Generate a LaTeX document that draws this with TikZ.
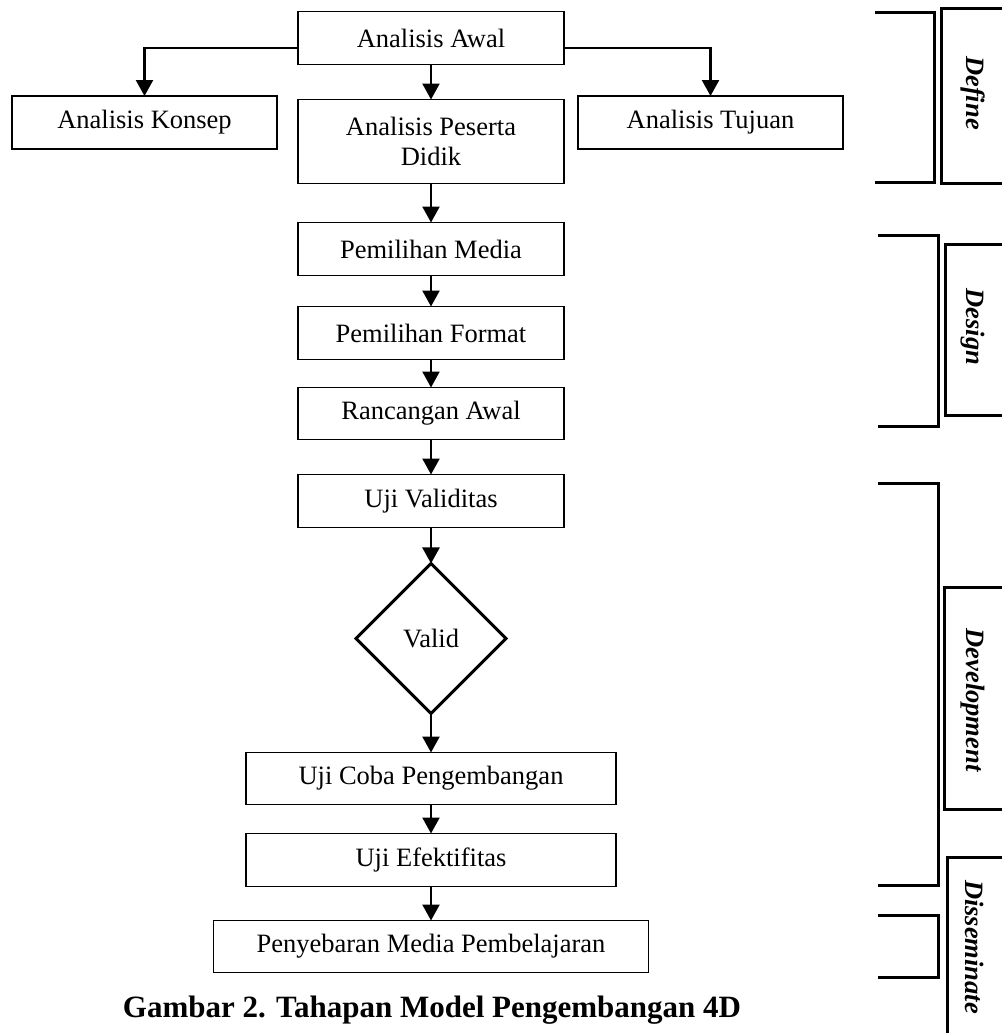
\documentclass[tikz,border=0pt]{standalone}
\usepackage{fontspec}
\setmainfont{Liberation Serif}
\usetikzlibrary{arrows.meta,shapes.geometric}
\usetikzlibrary{positioning}

\tikzset{
  box/.style={rectangle,draw=black,line width=1.6pt,minimum width=266pt,minimum height=53pt,inner sep=0pt,outer sep=0pt,align=center,font=\fontsize{26.5}{30}\selectfont},
  flow/.style={line width=2.4pt,-{Triangle[length=16pt,width=17pt]}},
  bracket/.style={line width=3pt},
  phase/.style={rotate=-90,inner sep=0pt,font=\bfseries\itshape\fontsize{26.5}{30}\selectfont},
}

\begin{document}
\begin{tikzpicture}[x=1pt,y=-1pt]
\useasboundingbox (0,0) rectangle (1001,1033);
\node[box](awal) at (431,38){Analisis Awal};
\node[box,minimum width=265pt](konsep) at (144.5,122.5){Analisis Konsep};
\node[box,minimum height=84pt,below=35pt of awal](peserta){Analisis Peserta\\Didik};
\node[box,minimum width=265pt](tujuan) at (710.5,122.5){Analisis Tujuan};
\node[box,below=39pt of peserta](media){Pemilihan Media};
\node[box,below=31pt of media](format){Pemilihan Format};
\node[box,minimum height=52pt,below=28pt of format](rancangan){Rancangan Awal};
\node[box,below=35pt of rancangan](validitas){Uji Validitas};
\node[diamond,draw=black,line width=3pt,minimum size=150pt,inner sep=0pt,outer sep=0pt,font=\fontsize{26.5}{30}\selectfont,below=36pt of validitas](valid){Valid};
\node[box,minimum width=370pt,minimum height=52pt,below=39pt of valid](ujicoba){Uji Coba Pengembangan};
\node[box,minimum width=370pt,below=29pt of ujicoba](efektif){Uji Efektifitas};
\node[box,minimum width=435pt,minimum height=52pt,below=34pt of efektif](sebar){Penyebaran Media Pembelajaran};
\node[font=\bfseries\fontsize{31}{35}\selectfont](caption) at (432,1010){Gambar 2. Tahapan Model Pengembangan 4D};
\draw[flow] ([yshift=-10pt]awal.west) -| (konsep.north);
\draw[flow] ([yshift=-10pt]awal.east) -| (tujuan.north);
\draw[flow] (awal) -- (peserta);
\draw[flow] (peserta) -- (media);
\draw[flow] (media) -- (format);
\draw[flow] (format) -- (rancangan);
\draw[flow] (rancangan) -- (validitas);
\draw[flow] (validitas) -- (valid);
\draw[flow] (valid) -- (ujicoba);
\draw[flow] (ujicoba) -- (efektif);
\draw[flow] (efektif) -- (sebar);
% phase brackets
\draw[bracket] (875,13) -- (934,13) -- (934,182) -- (875,182);
\draw[bracket] (878,235) -- (938,235) -- (938,426) -- (878,426);
\draw[bracket] (878,483) -- (938,483) -- (938,885) -- (878,885);
\draw[bracket] (878,915) -- (938,915) -- (938,977) -- (878,977);
\draw[bracket] (1002,9) -- (941,9) -- (941,183) -- (1002,183);
\draw[bracket] (1002,244) -- (945,244) -- (945,415) -- (1002,415);
\draw[bracket] (1002,587) -- (944,587) -- (944,809) -- (1002,809);
\draw[bracket] (1002,857) -- (947,857) -- (947,1034);
\node[phase](define) at (973,93){Define};
\node[phase](design) at (973,327){Design};
\node[phase](develop) at (973,700){Development};
\node[phase](dissem) at (975,947){Disseminate};
\end{tikzpicture}
\end{document}
